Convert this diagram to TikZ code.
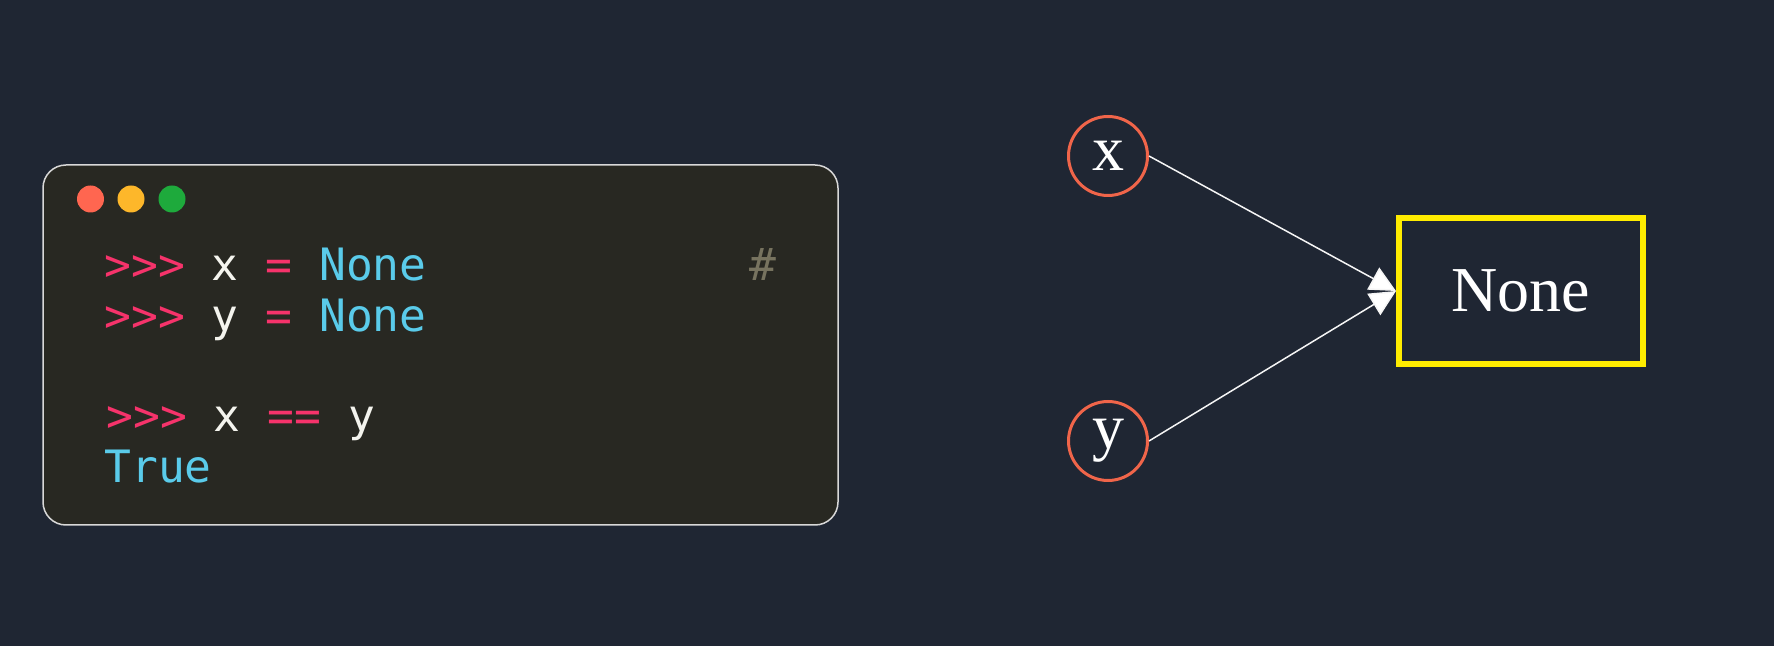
\documentclass[tikz,border=0pt]{standalone}
\usepackage{fontspec}
\usetikzlibrary{arrows.meta}
\newfontfamily\codefont{DejaVu Sans Mono}
\newfontfamily\gfont{Liberation Serif}
\definecolor{bgc}{HTML}{1F2633}
\definecolor{panelbg}{HTML}{282822}
\definecolor{panelline}{HTML}{D8D8D8}
\definecolor{cred}{HTML}{F6336B}
\definecolor{ccyan}{HTML}{5ACBEA}
\definecolor{cwhite}{HTML}{F4F4EE}
\definecolor{cgray}{HTML}{77735F}
\definecolor{dotred}{HTML}{FF6650}
\definecolor{dotyel}{HTML}{FDB72A}
\definecolor{dotgrn}{HTML}{1EAA3C}
\definecolor{vring}{HTML}{F0654A}
\definecolor{boxyel}{HTML}{FFEC00}
\tikzset{
  codeline/.style={anchor=base west, inner sep=0pt, font=\codefont\fontsize{22.3pt}{26pt}\selectfont, text=cwhite},
  winbtn/.style={circle, inner sep=0pt, minimum size=13.5pt},
  vnode/.style={circle, draw=vring, line width=1.5pt, inner sep=0pt, minimum size=39.5pt, text=white, font=\gfont\fontsize{32pt}{36pt}\selectfont},
  valbox/.style={rectangle, draw=boxyel, line width=2.8pt, inner sep=0pt, minimum width=122.2pt, minimum height=73.2pt, text=white, font=\gfont\fontsize{32pt}{36pt}\selectfont},
  edge/.style={draw=white!92!gray, line width=0.75pt, -{Triangle[length=13pt,width=12.5pt,fill=white]}}
}
\begin{document}
\begin{tikzpicture}[x=0.5pt,y=-0.5pt]
\fill[bgc] (0,0) rectangle (1774,646);
\useasboundingbox (0,0) rectangle (1774,646);
% code panel
\draw[draw=panelline, fill=panelbg, line width=0.75pt, rounded corners=11.5pt] (43,165) rectangle (838,525);
\node[winbtn, fill=dotred] (b1) at (90.5,199) {};
\node[winbtn, fill=dotyel] (b2) at (131,199) {};
\node[winbtn, fill=dotgrn] (b3) at (172,199) {};
\node[codeline] (l1) at (104,281) {\textcolor{cred}{>{}>{}>} x \textcolor{cred}{=} \textcolor{ccyan}{None}};
\node[codeline, text=cgray] (hash) at (749,281) {\#};
\node[codeline] (l2) at (104,332) {\textcolor{cred}{>{}>{}>} y \textcolor{cred}{=} \textcolor{ccyan}{None}};
\node[codeline] (l3) at (106,432) {\textcolor{cred}{>{}>{}>} x \textcolor{cred}{==} y};
\node[codeline, text=ccyan] (l4) at (104,483) {True};
% graph
\node[vnode] (x) at (1108,156) {x};
\node[vnode] (y) at (1108,441) {y};
\node[valbox] (none) at (1521,291) {None};
\draw[edge] (x.east) -- (none.west);
\draw[edge] (y.east) -- (none.west);
\end{tikzpicture}
\end{document}
